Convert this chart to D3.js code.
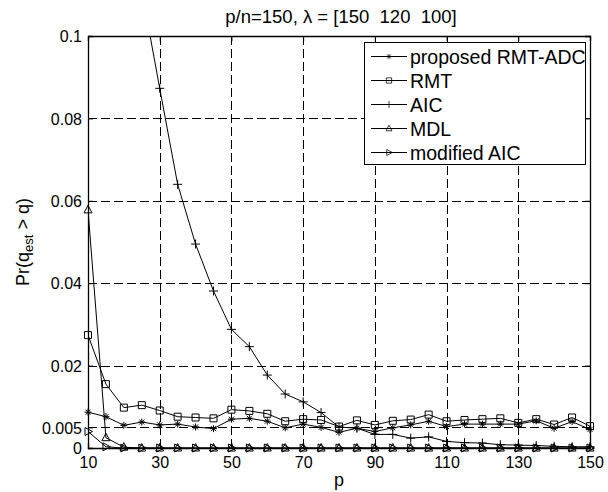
<!DOCTYPE html>
<html><head><meta charset="utf-8">
<script src="https://cdn.jsdelivr.net/npm/d3@7/dist/d3.min.js"></script>
<style>body{margin:0;background:#fff}svg{display:block}text{font-family:"Liberation Sans",Arial,sans-serif;fill:#000;white-space:pre}</style>
</head><body><svg id="c" width="608" height="492"></svg>
<script>
const pValues = [10,15,20,25,30,35,40,45,50,55,60,65,70,75,80,85,90,95,100,105,110,115,120,125,130,135,140,145,150];
const proposed = [0.0087,0.0076,0.0055,0.0063,0.0056,0.0058,0.0051,0.0047,0.0070,0.0072,0.0065,0.0049,0.0058,0.0050,0.0038,0.0048,0.0040,0.0049,0.0056,0.0065,0.0052,0.0058,0.0058,0.0058,0.0058,0.0066,0.0048,0.0064,0.0045];
const rmt = [0.0274,0.0155,0.0098,0.0104,0.0091,0.0076,0.0074,0.0072,0.0093,0.0090,0.0083,0.0065,0.0070,0.0068,0.0052,0.0067,0.0056,0.0066,0.0069,0.0081,0.0065,0.0068,0.0070,0.0072,0.0061,0.0070,0.0057,0.0074,0.0053];
const aic = [0.40,0.25,0.16,0.111,0.0873,0.0640,0.0495,0.0381,0.0288,0.0246,0.0177,0.0131,0.0112,0.0086,0.0051,0.0048,0.0033,0.0033,0.0024,0.0027,0.0016,0.0013,0.0012,0.0008,0.0007,0.0006,0.0004,0.0003,0.0003];
const mdl = [0.0578,0.0025,0.0002,0,0,0,0,0,0,0,0,0,0,0,0,0,0,0,0,0,0,0,0,0,0,0,0,0,0];
const modAic = [0.0040,0.0003,0,0,0,0,0,0,0,0,0,0,0,0,0,0,0,0,0,0,0,0,0,0,0,0,0,0,0];
const seriesNames = ["proposed RMT-ADC","RMT","AIC","MDL","modified AIC"];
const seriesMarkers = ["star","square","plus","triUp","triRight"];
const xTicks = [10,30,50,70,90,110,130,150];
const yTicks = [0,0.005,0.02,0.04,0.06,0.08,0.1];
const yTickLabels = ["0","0.005","0.02","0.04","0.06","0.08","0.1"];
const titleText = "p/n=150, λ = [150  120  100]";

const series = [proposed, rmt, aic, mdl, modAic];
const L=88,R=590,T=36,B=448;
const svg=d3.select("#c");
const x=d3.scaleLinear().domain([10,150]).range([L,R]);
const y=d3.scaleLinear().domain([0,0.1]).range([B,T]);

svg.append("defs").append("clipPath").attr("id","clip").append("rect")
  .attr("x",L).attr("y",T).attr("width",R-L).attr("height",B-T);

// grid
const g=svg.append("g");
g.selectAll(".vg").data(xTicks.filter(d=>d>10&&d<150)).join("line")
  .attr("x1",d=>x(d)+0.5).attr("x2",d=>x(d)+0.5).attr("y1",T).attr("y2",B)
  .attr("stroke","#000").attr("stroke-width",1).attr("stroke-dasharray","9,4").attr("shape-rendering","crispEdges");
g.selectAll(".hg").data(yTicks.filter(d=>d>0&&d<0.1)).join("line")
  .attr("y1",d=>Math.round(y(d))+0.5).attr("y2",d=>Math.round(y(d))+0.5).attr("x1",L).attr("x2",R)
  .attr("stroke","#000").attr("stroke-width",1).attr("stroke-dasharray","9,4").attr("shape-rendering","crispEdges");

// axes
const xAxis=d3.axisBottom(x).tickValues(xTicks).tickSize(-5).tickPadding(9).tickFormat(d3.format("d"));
const yAxis=d3.axisLeft(y).tickValues(yTicks).tickSize(-5).tickPadding(6).tickFormat((d,i)=>yTickLabels[i]);
const xa=svg.append("g").attr("transform",`translate(0,${B})`).call(xAxis);
const ya=svg.append("g").attr("transform",`translate(${L},0)`).call(yAxis);
svg.append("g").attr("transform",`translate(0,${T})`).call(d3.axisTop(x).tickValues(xTicks).tickSize(-5).tickFormat(""));
svg.append("g").attr("transform",`translate(${R},0)`).call(d3.axisRight(y).tickValues(yTicks).tickSize(-5).tickFormat(""));
svg.selectAll(".domain").attr("stroke","#000").attr("stroke-width",1.3);
svg.selectAll(".tick line").attr("stroke","#000");
svg.selectAll(".tick text").style("font-size","16px").style("font-family","'Liberation Sans',Arial,sans-serif");
ya.selectAll(".tick text").attr("dy","0.36em");

// marker function
function marker(sel,type){
  const s=sel.append("path").attr("fill","none").attr("stroke","#000").attr("stroke-width",1);
  let d="";
  if(type==="star"){const a=3.5,b=2.5;d=`M${-a},0H${a}M0,${-a}V${a}M${-b},${-b}L${b},${b}M${-b},${b}L${b},${-b}`;}
  else if(type==="square"){d="M-3.5,-3.5H3.5V3.5H-3.5Z";}
  else if(type==="plus"){d="M-4.5,0H4.5M0,-4.5V4.5";}
  else if(type==="triUp"){d="M0,-4.5L4,3L-4,3Z";}
  else if(type==="triRight"){d="M4.5,0L-3,-4L-3,4Z";}
  s.attr("d",d);
  return s;
}

const line=d3.line().x((d,i)=>x(pValues[i])).y(d=>y(d));
const plot=svg.append("g");
series.forEach((vals,k)=>{
  plot.append("path").attr("d",line(vals)).attr("fill","none").attr("stroke","#000").attr("stroke-width",1)
    .attr("clip-path","url(#clip)");
  vals.forEach((v,i)=>{
    if(v<=0.1){
      const m=plot.append("g").attr("transform",`translate(${x(pValues[i])},${y(v)})`);
      marker(m,seriesMarkers[k]);
    }
  });
});

// legend
const lg=svg.append("g");
lg.append("rect").attr("x",364.5).attr("y",42.5).attr("width",221).attr("height",122)
  .attr("fill","#fff").attr("stroke","#000").attr("stroke-width",1);
seriesNames.forEach((n,k)=>{
  const cy=56.5+k*24;
  lg.append("line").attr("x1",371).attr("x2",407).attr("y1",cy).attr("y2",cy).attr("stroke","#000");
  const m=lg.append("g").attr("transform",`translate(389,${cy})`);
  marker(m,seriesMarkers[k]).attr("transform","scale(0.75)");
  lg.append("text").attr("x",410).attr("y",cy).attr("dy","0.36em").style("font-size","19.5px").text(n);
});

// title & labels
svg.append("text").attr("x",(L+R)/2+2).attr("y",23).attr("text-anchor","middle").style("font-size","18.5px").text(titleText);
svg.append("text").attr("x",(L+R)/2).attr("y",486).attr("text-anchor","middle").style("font-size","18px").text("p");
const yl=svg.append("text").attr("transform",`translate(29,${(T+B)/2}) rotate(-90)`).attr("text-anchor","middle").style("font-size","18px");
yl.append("tspan").text("Pr(q");
yl.append("tspan").attr("dy",4).style("font-size","13px").text("est");
yl.append("tspan").attr("dy",-4).text(" > q)");
</script></body></html>
